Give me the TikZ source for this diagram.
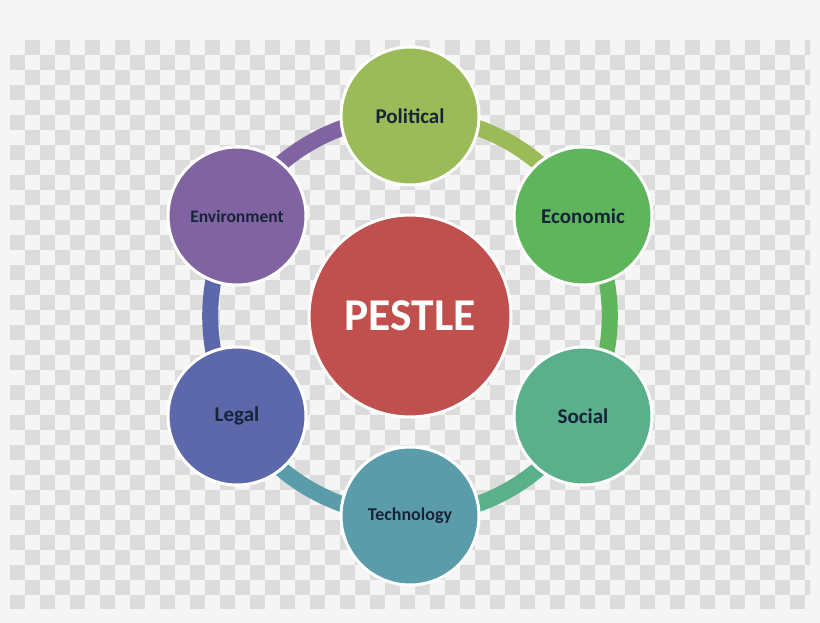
\documentclass[tikz,border=0pt]{standalone}
\usepackage{fontspec}
\setmainfont{Carlito}
\usepackage{tikz, xcolor}
\usetikzlibrary{backgrounds}

\definecolor{polcol}{HTML}{9BBB59}
\definecolor{ecocol}{HTML}{5EB55B}
\definecolor{soccol}{HTML}{5AB08B}
\definecolor{teccol}{HTML}{5B9CAB}
\definecolor{legcol}{HTML}{5D68AA}
\definecolor{envcol}{HTML}{8064A2}
\definecolor{pescol}{HTML}{C0504D}
\definecolor{labcol}{HTML}{172338}
\definecolor{chkcol}{HTML}{DCDCDC}
\definecolor{bgcol}{HTML}{F5F5F5}

\pgfdeclarelayer{back}
\pgfsetlayers{back,background,main}

\begin{document}
\begin{tikzpicture}[x=1pt, y=-1pt,
    item/.style={circle, draw=white, line width=3pt, minimum size=138pt,
      inner sep=0pt, font=\bfseries\fontsize{21}{25}\selectfont, text=labcol},
    hub/.style={circle, draw=white, line width=3pt, minimum size=202pt,
      fill=pescol, font=\bfseries\fontsize{45.5}{50}\selectfont, text=white},
    ring/.style={line width=16pt}]
    \useasboundingbox (0, 0) rectangle (820, 623);

    % centre and the six factors
    \node [hub] (pestle) at (410, 316) {PESTLE};
    \node [item, fill=polcol] (pol) at (410, 116) {Political};
    \node [item, fill=ecocol] (eco) at (583, 216) {Economic};
    \node [item, fill=soccol] (soc) at (583, 416) {Social};
    \node [item, fill=teccol, font=\bfseries\fontsize{18}{21}\selectfont] (tec) at (410, 516) {Technology};
    \node [item, fill=legcol] (leg) at (237, 416) {Legal};
    \node [item, fill=envcol, font=\bfseries\fontsize{17.5}{21}\selectfont] (env) at (237, 216) {Environment};

    % ring pieces between the circles
    \begin{pgfonlayer}{background}
      \draw [ring, envcol] (env.center) arc [start angle=210, end angle=270, radius=200];
      \draw [ring, polcol] (pol.center) arc [start angle=270, end angle=330, radius=200];
      \draw [ring, ecocol] (eco.center) arc [start angle=330, end angle=390, radius=200];
      \draw [ring, soccol] (soc.center) arc [start angle=30, end angle=90, radius=200];
      \draw [ring, teccol] (tec.center) arc [start angle=90, end angle=150, radius=200];
      \draw [ring, legcol] (leg.center) arc [start angle=150, end angle=210, radius=200];
    \end{pgfonlayer}

    % checkered backdrop
    \begin{pgfonlayer}{back}
      \fill [bgcol] (0, 0) rectangle (820, 623);
      \begin{scope}
        \clip (10, 40) rectangle (810, 608);
        \foreach \y in {40, 70, ..., 610}
          \foreach \x in {25, 55, ..., 810}
            \fill [chkcol] (\x, \y) rectangle ++(15, 15);
        \foreach \y in {55, 85, ..., 610}
          \foreach \x in {10, 40, ..., 810}
            \fill [chkcol] (\x, \y) rectangle ++(15, 15);
      \end{scope}
    \end{pgfonlayer}

  \end{tikzpicture}
\end{document}
